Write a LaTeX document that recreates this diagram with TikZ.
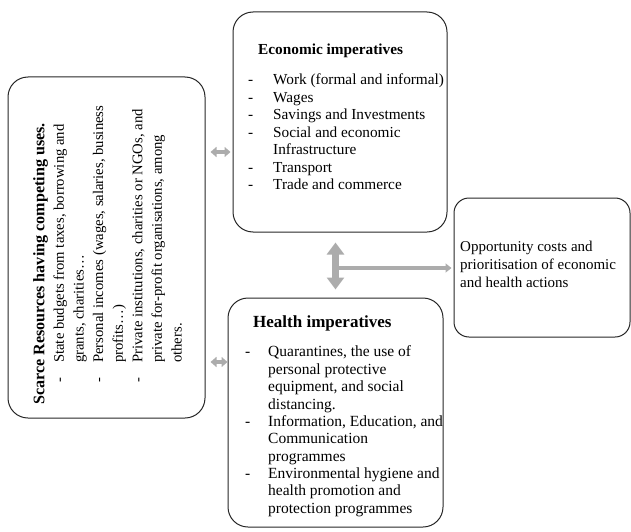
\documentclass[tikz,border=0pt]{standalone}
\usepackage{fontspec}
\setmainfont{Liberation Serif}
\usepackage{tikz}
\usetikzlibrary{arrows.meta}
\tikzstyle{roundbox} = [rectangle, rounded corners=20pt, draw=black!85, line width=1pt]
\tikzstyle{boxtext} = [inner sep=0pt, align=left, anchor=north west, font=\fontsize{15.3}{17.5}\selectfont]
\tikzstyle{smallarrow} = [draw=gray!65, line width=3.5pt, {Triangle[width=10pt,length=6pt]}-{Triangle[width=10pt,length=6pt]}]
\tikzstyle{bigarrow} = [draw=gray!65, line width=6.5pt, {Triangle[width=17pt,length=12pt]}-{Triangle[width=17pt,length=12pt]}]
\tikzstyle{thinarrow} = [draw=gray!65, line width=4pt, -{Triangle[width=9pt,length=6pt]}]
\newcommand{\dashitem}[1][25pt]{\makebox[#1][l]{-}}
\newcommand{\itemcont}[1][25pt]{\hspace*{#1}}
\newcommand{\boxtitle}[2][17]{{\fontsize{#1}{#1}\selectfont\bfseries #2}}

\begin{document}
\begin{tikzpicture}[x=1pt, y=-1pt]
        \useasboundingbox (0,0) rectangle (631,532);
        % the four boxes
        \node (scarce) [roundbox, minimum width=197pt, minimum height=341pt] at (106.5,247.5) {};
        \node (econ) [roundbox, minimum width=214pt, minimum height=220pt] at (340,122) {};
        \node (health) [roundbox, minimum width=215pt, minimum height=229pt] at (335.5,412.5) {};
        \node (opp) [roundbox, rounded corners=15pt, minimum width=176pt, minimum height=139pt] at (542,267.5) {};

        \node (scarcetext) [boxtext, rotate=90, font=\fontsize{14.7}{19.6}\selectfont] at (33,405) {\boxtitle[16.1]{Scarce Resources having competing uses.}\\
            \itemcont[22pt]\dashitem[20pt]State budgets from taxes, borrowing and\\
            \itemcont[42pt]grants, charities…\\
            \itemcont[22pt]\dashitem[20pt]Personal incomes (wages, salaries, business\\
            \itemcont[42pt]profits…)\\
            \itemcont[22pt]\dashitem[20pt]Private institutions, charities or NGOs, and\\
            \itemcont[42pt]private for-profit organisations, among\\
            \itemcont[42pt]others.};
        \node (econtext) [boxtext] at (248,44) {\hspace*{10pt}{\bfseries Economic imperatives}\\[12.5pt]
            \dashitem Work (formal and informal)\\
            \dashitem Wages\\
            \dashitem Savings and Investments\\
            \dashitem Social and economic\\
            \itemcont Infrastructure\\
            \dashitem Transport\\
            \dashitem Trade and commerce};
        \node (healthtext) [boxtext, font=\fontsize{15.5}{17.35}\selectfont] at (245,315) {\hspace*{8pt}\boxtitle{Health imperatives}\\[12.6pt]
            \dashitem[23pt]Quarantines, the use of\\
            \itemcont[23pt]personal protective\\
            \itemcont[23pt]equipment, and social\\
            \itemcont[23pt]distancing.\\
            \dashitem[23pt]Information, Education, and\\
            \itemcont[23pt]Communication\\
            \itemcont[23pt]programmes\\
            \dashitem[23pt]Environmental hygiene and\\
            \itemcont[23pt]health promotion and\\
            \itemcont[23pt]protection programmes};
        \node (opptext) [boxtext, font=\fontsize{15}{18}\selectfont] at (460,241) {Opportunity costs and\\prioritisation of economic\\and health actions};

        % connectors
        \coordinate (junction) at (335.5,268);
        \draw [smallarrow, shorten <=5pt, shorten >=2pt] (scarce.east |- 0,152) -- (econ.west |- 0,152);
        \draw [smallarrow, shorten <=5pt] (scarce.east |- 0,362) -- (health.west |- 0,362);
        \draw [thinarrow, shorten >=2pt] (junction) -- (junction -| opp.west);
        \draw [bigarrow, shorten <=10pt, shorten >=8pt] (econ.south -| health.north) -- (health.north);
    \end{tikzpicture}
\end{document}
